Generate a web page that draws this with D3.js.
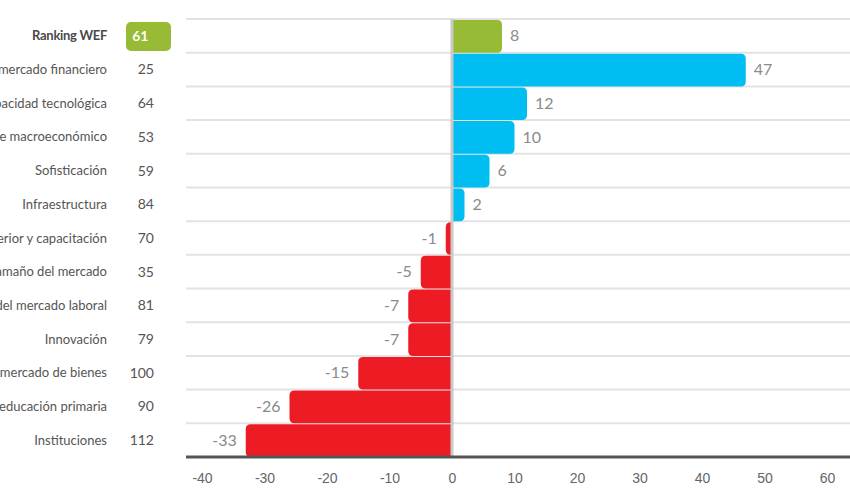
<!DOCTYPE html>
<html lang="es">
<head>
  <meta charset="UTF-8" />
  <title>Ranking WEF</title>
  <script src="https://d3js.org/d3.v7.min.js"></script>
  <style>
    body {
      margin: 0;
      background: #fff;
      font-family: Lato, "Open Sans", sans-serif;
    }
    svg {
      display: block;
    }
    .grid line {
      stroke: #e3e3e3;
      stroke-width: 2px;
    }
    .cat {
      font-size: 13px;
      fill: #555;
      text-anchor: end;
    }
    .cat.main {
      font-weight: bold;
      fill: #4a4a4a;
      letter-spacing: -0.3px;
    }
    .rank {
      font-size: 14px;
      fill: #555;
      text-anchor: end;
    }
    .val {
      font-size: 16px;
      fill: #8a8a8a;
    }
    .tick text {
      font-size: 14px;
      fill: #666;
    }
  </style>
</head>
<body>
<svg width="850" height="500"></svg>
<script>
const categories = [
  "Ranking WEF",
  "Desarrollo del mercado financiero",
  "Capacidad tecnológica",
  "Ambiente macroeconómico",
  "Sofisticación",
  "Infraestructura",
  "Educación superior y capacitación",
  "Tamaño del mercado",
  "Eficiencia del mercado laboral",
  "Innovación",
  "Eficiencia del mercado de bienes",
  "Salud y educación primaria",
  "Instituciones"
];
const ranks = [61, 25, 64, 53, 59, 84, 70, 35, 81, 79, 100, 90, 112];
const changes = [8, 47, 12, 10, 6, 2, -1, -5, -7, -7, -15, -26, -33];
const ticks = [-40, -30, -20, -10, 0, 10, 20, 30, 40, 50, 60];

const rows = categories.map((c, i) => ({ name: c, rank: ranks[i], change: changes[i], i }));

const svg = d3.select("svg");
const gridLeft = 186, gridRight = 850;

const y = d3.scaleBand().domain(categories).range([19, 457]).padding(0);
const x = d3.scaleLinear().domain([-40, 60]).range([202, 827]);

// líneas horizontales
svg.append("g").attr("class", "grid")
  .selectAll("line")
  .data(rows)
  .join("line")
  .attr("x1", gridLeft).attr("x2", gridRight)
  .attr("y1", d => y(d.name)).attr("y2", d => y(d.name));

// barras con esquinas redondeadas solo en el extremo
function barPath(d) {
  const x0 = x(0), x1 = x(d.change);
  const top = y(d.name) + 1, h = y.bandwidth() - 1;
  const w = Math.abs(x1 - x0);
  const r = Math.min(5, w);
  if (d.change >= 0) {
    return `M${x0},${top} H${x1 - r} Q${x1},${top} ${x1},${top + r}
      V${top + h - r} Q${x1},${top + h} ${x1 - r},${top + h} H${x0} Z`;
  }
  return `M${x0},${top} H${x1 + r} Q${x1},${top} ${x1},${top + r}
    V${top + h - r} Q${x1},${top + h} ${x1 + r},${top + h} H${x0} Z`;
}

svg.append("g")
  .selectAll("path")
  .data(rows)
  .join("path")
  .attr("d", barPath)
  .attr("fill", d => d.i === 0 ? "#97bb35" : (d.change >= 0 ? "#00bdf2" : "#ed1c24"));

// línea del cero
svg.append("line")
  .attr("x1", x(0)).attr("x2", x(0))
  .attr("y1", 19).attr("y2", 456)
  .attr("stroke", "#c9c9c9").attr("stroke-width", 3);

// valores
svg.append("g")
  .selectAll("text")
  .data(rows)
  .join("text")
  .attr("class", "val")
  .attr("x", d => d.change >= 0 ? x(d.change) + 8 : x(d.change) - 9)
  .attr("y", d => y(d.name) + y.bandwidth() / 2)
  .attr("dy", "0.35em")
  .attr("text-anchor", d => d.change >= 0 ? "start" : "end")
  .text(d => d.change);

// etiquetas de categoría
svg.append("g")
  .selectAll("text")
  .data(rows)
  .join("text")
  .attr("class", d => d.i === 0 ? "cat main" : "cat")
  .attr("x", 107)
  .attr("y", d => y(d.name) + y.bandwidth() / 2)
  .attr("dy", "0.35em")
  .text(d => d.name);

// recuadro verde del ranking
svg.append("rect")
  .attr("x", 126).attr("y", y(categories[0]) + 3)
  .attr("width", 45).attr("height", 29)
  .attr("rx", 5)
  .attr("fill", "#97bb35");

svg.append("g")
  .selectAll("text")
  .data(rows)
  .join("text")
  .attr("class", "rank")
  .attr("x", d => d.i === 0 ? 148.5 : 154)
  .attr("y", d => y(d.name) + y.bandwidth() / 2)
  .attr("dy", "0.35em")
  .attr("text-anchor", d => d.i === 0 ? "middle" : "end")
  .style("fill", d => d.i === 0 ? "#fff" : null)
  .style("font-weight", d => d.i === 0 ? "bold" : null)
  .text(d => d.rank);

// eje inferior
const axis = svg.append("g")
  .attr("transform", "translate(0,457)")
  .call(d3.axisBottom(x).tickValues(ticks).tickFormat(d => String(d)).tickSize(0).tickPadding(16));
axis.select(".domain").remove();
axis.append("line")
  .attr("x1", gridLeft).attr("x2", gridRight)
  .attr("stroke", "#555").attr("stroke-width", 3);
axis.selectAll(".tick text").attr("font-family", null).attr("font-size", null);
</script>
</body>
</html>
